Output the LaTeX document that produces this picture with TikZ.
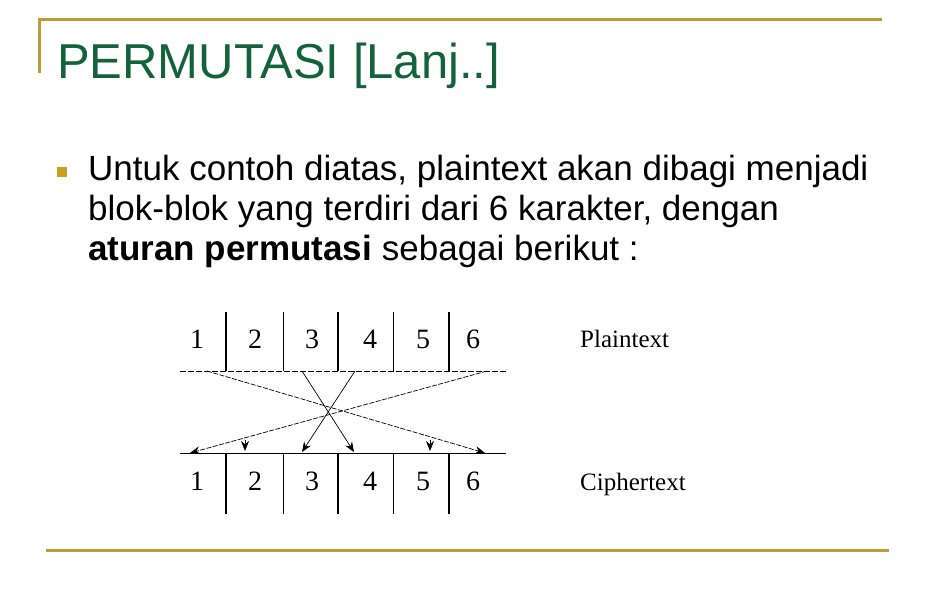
\documentclass[tikz,border=0pt]{standalone}
\usepackage{fontspec}
\setmainfont{Liberation Sans}
\newfontfamily\serifdiag{Liberation Serif}
\usetikzlibrary{arrows.meta}
\definecolor{goldline}{RGB}{189,156,52}
\definecolor{bulletgold}{RGB}{204,158,32}
\definecolor{titlegreen}{RGB}{20,98,58}
\begin{document}
\begin{tikzpicture}[x=1pt,y=-1pt,
  rule/.style={draw=goldline,line width=3pt},
  titletext/.style={anchor=base west,inner sep=0pt,text=titlegreen,font=\fontsize{49}{56}\selectfont},
  bodytext/.style={anchor=base west,inner sep=0pt,font=\fontsize{35}{40}\selectfont},
  digit/.style={inner sep=0pt,font=\serifdiag\fontsize{28}{30}\selectfont},
  rowlabel/.style={anchor=base west,inner sep=0pt,font=\serifdiag\fontsize{25}{28}\selectfont},
  thickv/.style={line width=1.6pt},
  thinv/.style={line width=0.8pt},
  permarrow/.style={line width=0.7pt,-{Stealth[length=10pt,width=8pt]}},
  permdashed/.style={permarrow,dash pattern=on 5pt off 1.5pt},
]
\useasboundingbox (0,0) rectangle (936,612);
% decorative rules
\coordinate (tl) at (39,20);
\coordinate (tr) at (882,20);
\coordinate (tv) at (39,73);
\coordinate (bl) at (46,550);
\coordinate (br) at (889,550);
\draw[rule] (tv) -- (tl) -- (tr);
\draw[rule] (bl) -- (br);
% title
\node[titletext] (title) at (57,79) {PERMUTASI [Lanj..]};
% bullet
\fill[bulletgold] (57,167) rectangle (67,177);
\node[bodytext] (l1) at (88,181) {Untuk contoh diatas, plaintext akan dibagi menjadi};
\node[bodytext] (l2) at (88,221) {blok-blok yang terdiri dari 6 karakter, dengan};
\node[bodytext] (l3) at (88,261) {\textbf{aturan permutasi} sebagai berikut :};
% diagram lines
\coordinate (dl) at (180,371);
\coordinate (dr) at (506,371);
\coordinate (sl) at (180,453);
\coordinate (sr) at (506,453);
\draw[line width=0.7pt,dash pattern=on 6pt off 2pt] (dl) -- (dr);
\draw[line width=0.9pt] (sl) -- (sr);
\foreach \x/\s in {226/thickv,283/thinv,338/thickv,393/thinv,449/thickv}{
  \draw[\s] (\x,312) -- (\x,371);
  \draw[\s] (\x,453) -- (\x,514);
}
% digits
\foreach \i/\x in {1/197,2/255,3/312,4/370,5/423,6/473}{
  \node[digit] (p\i) at (\x,339) {\i};
  \node[digit] (c\i) at (\x,481) {\i};
}
\node[rowlabel] (plab) at (580,347) {Plaintext};
\node[rowlabel] (clab) at (580,490) {Ciphertext};
% permutation arrows
\coordinate (a1) at (207,371);
\coordinate (a2) at (485,453);
\coordinate (b1) at (302,371);
\coordinate (b2) at (354,452);
\coordinate (e1) at (355,371);
\coordinate (e2) at (302,452);
\coordinate (d1) at (487,371);
\coordinate (d2) at (190,453);
\draw[permdashed] (a1) -- (a2);
\draw[permarrow] (b1) -- (b2);
\draw[permarrow] (e1) -- (e2);
\draw[permdashed] (d1) -- (d2);
\coordinate (m1) at (245,440);
\coordinate (m1e) at (245,451);
\coordinate (m2) at (430,440);
\coordinate (m2e) at (430,451);
\draw[permarrow] (m1) -- (m1e);
\draw[permarrow] (m2) -- (m2e);
\end{tikzpicture}
\end{document}
